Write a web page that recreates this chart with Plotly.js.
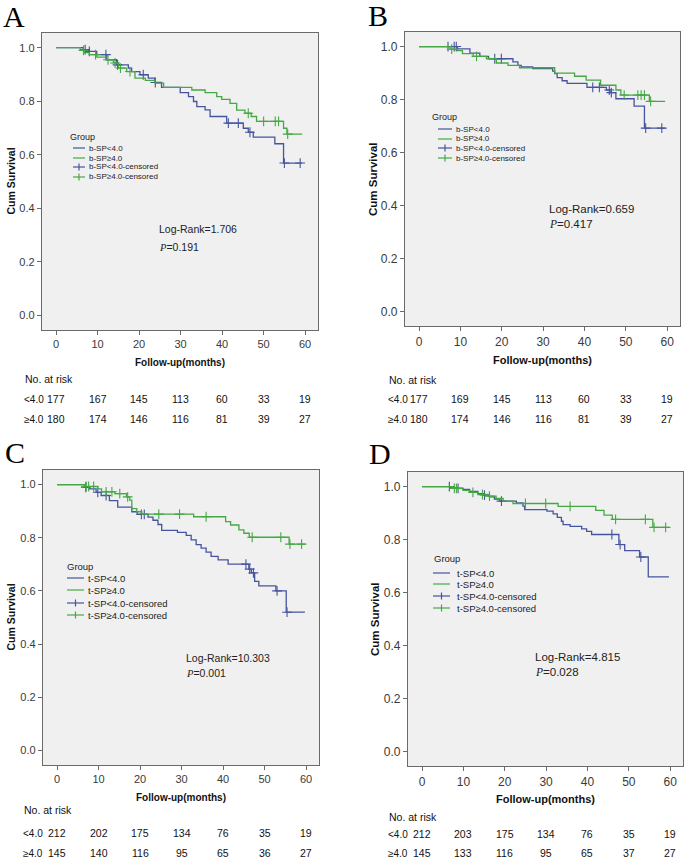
<!DOCTYPE html>
<html><head><meta charset="utf-8">
<script src="https://cdn.plot.ly/plotly-3.0.1.min.js"></script>
<style>html,body{margin:0;padding:0;background:#fff}#chart{width:685px;height:860px}</style>
</head><body><div id="chart"></div>
<script>
// ---------- DATA ----------
const riskTimes = [0, 10, 20, 30, 40, 50, 60];
const yTicks = [0, 0.2, 0.4, 0.6, 0.8, 1.0];

// Panel A (b-SP)
const A_lo_t = [0, 6.5, 7.8, 9.8, 12.2, 14.6, 17.4, 18.2, 20.2, 22.2, 23.8, 25.4, 29.9, 31.9, 33.1, 33.9, 35.9, 37.1, 41.1, 45.1, 46.3, 47.5, 52.7, 54.8, 59.3];
const A_lo_s = [1.0, 0.993, 0.986, 0.974, 0.955, 0.936, 0.924, 0.911, 0.899, 0.886, 0.870, 0.852, 0.832, 0.817, 0.799, 0.780, 0.768, 0.743, 0.718, 0.699, 0.684, 0.666, 0.641, 0.569, 0.569];
const A_lo_cens = [7.0, 8.0, 12.0, 14.8, 21.0, 23.9, 41.5, 43.9, 46.7, 55.0, 58.8];
const A_hi_t = [0, 5.8, 6.8, 8.0, 9.8, 12.0, 13.8, 15.0, 17.0, 19.0, 21.5, 23.8, 25.9, 32.7, 35.9, 38.7, 39.9, 41.9, 43.5, 45.5, 47.0, 48.3, 54.8, 55.6, 59.3];
const A_hi_s = [1.0, 0.990, 0.982, 0.974, 0.965, 0.955, 0.943, 0.924, 0.911, 0.886, 0.878, 0.868, 0.852, 0.842, 0.832, 0.817, 0.807, 0.792, 0.767, 0.755, 0.743, 0.725, 0.699, 0.677, 0.677];
const A_hi_cens = [6.6, 9.5, 12.5, 14.2, 15.5, 17.8, 46.3, 50.0, 52.8, 53.6, 55.8];
const A_risk_lo = [177, 167, 145, 113, 60, 33, 19];
const A_risk_hi = [180, 174, 146, 116, 81, 39, 27];

// Panel B (b-SP)
const B_lo_t = [0, 9.3, 12.3, 14.7, 16.8, 22.7, 23.9, 24.7, 27.5, 32.3, 32.8, 33.4, 34.6, 35.8, 40.6, 45.3, 46.2, 47.6, 52.0, 54.5, 59.5];
const B_lo_s = [1.0, 0.991, 0.975, 0.963, 0.954, 0.942, 0.929, 0.923, 0.917, 0.907, 0.898, 0.883, 0.871, 0.861, 0.846, 0.836, 0.826, 0.803, 0.775, 0.692, 0.692];
const B_lo_cens = [7.0, 8.5, 9.0, 18.3, 19.9, 42.0, 43.6, 46.0, 46.5, 54.8, 58.7];
const B_hi_t = [0, 7.5, 9.3, 10.5, 13.1, 16.3, 18.7, 21.5, 24.3, 32.8, 37.6, 40.4, 43.9, 47.6, 48.8, 55.7, 59.5];
const B_hi_s = [1.0, 0.990, 0.985, 0.973, 0.963, 0.954, 0.938, 0.929, 0.920, 0.900, 0.888, 0.873, 0.854, 0.836, 0.817, 0.793, 0.793];
const B_hi_cens = [7.9, 13.9, 49.6, 52.9, 53.7, 54.5, 56.0];
const B_risk_lo = [177, 169, 145, 113, 60, 33, 19];
const B_risk_hi = [180, 174, 146, 116, 81, 39, 27];

// Panel C (t-SP)
const C_lo_t = [0, 6.6, 7.8, 9.4, 10.6, 12.6, 14.6, 18.0, 19.3, 21.9, 23.1, 24.3, 25.2, 29.0, 31.1, 32.3, 33.5, 34.7, 35.9, 37.1, 38.8, 41.2, 46.2, 46.8, 47.6, 48.6, 52.7, 55.2, 59.7];
const C_lo_s = [1.0, 0.990, 0.984, 0.971, 0.959, 0.940, 0.915, 0.898, 0.888, 0.878, 0.866, 0.850, 0.828, 0.820, 0.809, 0.792, 0.774, 0.761, 0.746, 0.730, 0.717, 0.701, 0.682, 0.668, 0.636, 0.619, 0.600, 0.520, 0.520];
const C_lo_cens = [6.9, 9.8, 11.8, 20.3, 21.0, 45.5, 46.4, 47.3, 53.0, 55.4];
const C_hi_t = [0, 6.6, 9.8, 10.7, 13.9, 16.7, 17.5, 18.0, 19.2, 20.4, 32.9, 40.6, 41.8, 43.8, 45.0, 46.3, 55.9, 59.7];
const C_hi_s = [1.0, 0.993, 0.984, 0.973, 0.966, 0.954, 0.942, 0.910, 0.898, 0.889, 0.879, 0.861, 0.848, 0.830, 0.817, 0.802, 0.776, 0.776];
const C_hi_cens = [7.0, 7.6, 8.8, 11.8, 13.2, 15.1, 17.0, 24.5, 29.5, 35.9, 47.0, 53.9, 56.1, 58.9];
const C_risk_lo = [212, 202, 175, 134, 76, 35, 19];
const C_risk_hi = [145, 140, 116, 95, 65, 36, 27];

// Panel D (t-SP)
const D_lo_t = [0, 6.9, 8.5, 9.9, 11.5, 13.5, 14.9, 16.3, 17.5, 18.8, 22.8, 24.4, 24.8, 30.2, 31.7, 32.7, 33.7, 34.1, 35.8, 38.6, 39.8, 41.0, 47.6, 49.0, 52.6, 54.7, 59.7];
const D_lo_s = [1.0, 0.995, 0.993, 0.989, 0.982, 0.973, 0.968, 0.961, 0.953, 0.945, 0.938, 0.926, 0.913, 0.907, 0.897, 0.884, 0.869, 0.856, 0.850, 0.840, 0.831, 0.819, 0.781, 0.758, 0.734, 0.659, 0.659];
const D_lo_cens = [6.6, 8.7, 15.1, 19.2, 45.9, 47.9, 52.9];
const D_hi_t = [0, 7.4, 9.9, 11.5, 13.5, 15.9, 17.9, 19.6, 22.0, 32.9, 42.0, 44.0, 46.0, 55.8, 59.7];
const D_hi_s = [1.0, 0.993, 0.986, 0.978, 0.970, 0.964, 0.955, 0.945, 0.936, 0.925, 0.910, 0.892, 0.876, 0.846, 0.846];
const D_hi_cens = [7.8, 8.3, 12.3, 14.6, 16.3, 25.0, 29.9, 35.8, 46.8, 54.0, 56.1, 58.9];
const D_risk_lo = [212, 203, 175, 134, 76, 35, 19];
const D_risk_hi = [145, 133, 116, 95, 65, 37, 27];

const groupPrefix = ['b-SP', 'b-SP', 't-SP', 't-SP'];
const logRank = ['1.706', '0.659', '10.303', '4.815'];
const pValues = ['0.191', '0.417', '0.001', '0.028'];
const panelLetters = ['A', 'B', 'C', 'D'];

// ---------- STYLE / LAYOUT ----------
const W = 685, H = 860;
const BLUE = '#46549f', GREEN = '#45a845', AXC = '#6a6a6a';
const SANS = 'Liberation Sans, Arial, sans-serif';
const NARROW = 'Liberation Sans Narrow, Arial Narrow, Liberation Sans, sans-serif';
const SERIF = 'Liberation Serif, Times New Roman, serif';
const px = v => v / W, py = v => 1 - v / H;

const layoutCfg = [
  {box:[42,33,318,330], letter:[14,17], ytx:10, xty:362, nar:[23,379], rows:[399,419], rowx:22,
   lr:[157,229,247], tick:11, tit:10, leg:{g:[68,137], ys:[148,158,167,177], l:[73,85], tx:87, fs:8, gfs:9}},
  {box:[405,32,680,326], letter:[378,15], ytx:373, xty:360, nar:[387,380], rows:[399,419], rowx:386,
   lr:[547,209,224], tick:12, tit:11, leg:{g:[430,117], ys:[129,139,148,158], l:[438,452], tx:454, fs:8, gfs:9}},
  {box:[43,470,319,765], letter:[15,452], ytx:10, xty:797, nar:[22,810], rows:[833,853], rowx:21,
   lr:[184,658,673], tick:11, tit:10, leg:{g:[65,566], ys:[578,590,603,615], l:[67,84], tx:86, fs:9.5, gfs:9.5}},
  {box:[408,472,683,766], letter:[380,453], ytx:375, xty:799, nar:[387,817], rows:[834,853], rowx:386,
   lr:[533,657,672], tick:12, tit:11, leg:{g:[432,558], ys:[573,584,596,608], l:[433,450], tx:455, fs:9.5, gfs:9.5}}
];

const curves = [
  {lo:[A_lo_t,A_lo_s,A_lo_cens], hi:[A_hi_t,A_hi_s,A_hi_cens], rl:A_risk_lo, rh:A_risk_hi},
  {lo:[B_lo_t,B_lo_s,B_lo_cens], hi:[B_hi_t,B_hi_s,B_hi_cens], rl:B_risk_lo, rh:B_risk_hi},
  {lo:[C_lo_t,C_lo_s,C_lo_cens], hi:[C_hi_t,C_hi_s,C_hi_cens], rl:C_risk_lo, rh:C_risk_hi},
  {lo:[D_lo_t,D_lo_s,D_lo_cens], hi:[D_hi_t,D_hi_s,D_hi_cens], rl:D_risk_lo, rh:D_risk_hi}
];

function stepAt(t, ts, ss) {
  let v = ss[0];
  for (let i = 0; i < ts.length; i++) { if (ts[i] <= t) v = ss[i]; else break; }
  return v;
}

const traces = [], annotations = [], shapes = [];
const layout = {
  width: W, height: H, margin: {l:0, r:0, t:0, b:0},
  paper_bgcolor: '#ffffff', plot_bgcolor: '#f0f0f0', showlegend: false,
  font: {family: SANS, color: '#222'}
};

curves.forEach((c, i) => {
  const n = i === 0 ? '' : String(i + 1);
  const xa = 'x' + n, ya = 'y' + n;
  const L = layoutCfg[i];
  const [x0, y0, x1, y1] = L.box;
  const axCommon = {showline:true, mirror:true, linecolor:AXC, linewidth:1.2, showgrid:false, zeroline:false,
    ticks:'outside', ticklen:4, tickwidth:1, tickcolor:AXC, tickfont:{family:SANS, size:L.tick, color:'#3a3a3a'}};
  layout['xaxis' + n] = Object.assign({}, axCommon, {domain:[px(x0), px(x1)], range:[-3.4, 63.1], anchor:ya,
    tickmode:'array', tickvals:riskTimes});
  layout['yaxis' + n] = Object.assign({}, axCommon, {domain:[py(y1), py(y0)], range:[-0.055, 1.055], anchor:xa,
    tickmode:'array', tickvals:yTicks, tickformat:'.1f'});

  [['lo', BLUE], ['hi', GREEN]].forEach(([k, col]) => {
    const [ts, ss, cs] = c[k];
    traces.push({type:'scatter', mode:'lines', x:ts, y:ss, xaxis:xa, yaxis:ya,
      line:{color:col, width:1.3, shape:'hv'}, hoverinfo:'skip'});
    traces.push({type:'scatter', mode:'markers', x:cs, y:cs.map(t => stepAt(t, ts, ss)), xaxis:xa, yaxis:ya,
      marker:{symbol:'cross-thin-open', size:7, color:col, line:{color:col, width:1.1}}, hoverinfo:'skip'});
  });

  // panel letter
  annotations.push({xref:'paper', yref:'paper', x:px(L.letter[0]), y:py(L.letter[1]), xanchor:'center', yanchor:'middle',
    text:panelLetters[i], showarrow:false, font:{family:SERIF, size:30, color:'#000'}});
  // y axis title
  annotations.push({xref:'paper', yref:'paper', x:px(L.ytx), y:py((y0 + y1) / 2), xanchor:'center', yanchor:'middle',
    text:'<b>Cum Survival</b>', textangle:-90, showarrow:false, font:{family:SANS, size:L.tit + 0.5, color:'#111'}});
  // x axis title
  annotations.push({xref:'paper', yref:'paper', x:px((x0 + x1) / 2), y:py(L.xty), xanchor:'center', yanchor:'middle',
    text:'<b>Follow-up(months)</b>', showarrow:false, font:{family:SANS, size:L.tit, color:'#111'}});
  // No. at risk
  annotations.push({xref:'paper', yref:'paper', x:px(L.nar[0]), y:py(L.nar[1]), xanchor:'left', yanchor:'middle',
    text:'No. at risk', showarrow:false, font:{family:NARROW, size:10.5, color:'#111'}});
  annotations.push({xref:'paper', yref:'paper', x:px(L.rowx), y:py(L.rows[0]), xanchor:'left', yanchor:'middle',
    text:'&lt;4.0', showarrow:false, font:{family:NARROW, size:10, color:'#111'}});
  annotations.push({xref:'paper', yref:'paper', x:px(L.rowx), y:py(L.rows[1]), xanchor:'left', yanchor:'middle',
    text:'≥4.0', showarrow:false, font:{family:NARROW, size:10, color:'#111'}});
  riskTimes.forEach((t, j) => {
    annotations.push({xref:xa, yref:'paper', x:t, y:py(L.rows[0]), xanchor:'center', yanchor:'middle',
      text:String(c.rl[j]), showarrow:false, font:{family:NARROW, size:10.5, color:'#111'}});
    annotations.push({xref:xa, yref:'paper', x:t, y:py(L.rows[1]), xanchor:'center', yanchor:'middle',
      text:String(c.rh[j]), showarrow:false, font:{family:NARROW, size:10.5, color:'#111'}});
  });
  // Log-rank
  annotations.push({xref:'paper', yref:'paper', x:px(L.lr[0]), y:py(L.lr[1]), xanchor:'left', yanchor:'middle',
    text:'Log-Rank=' + logRank[i], showarrow:false, font:{family:SANS, size:L.tit + 0.5, color:'#222'}});
  annotations.push({xref:'paper', yref:'paper', x:px(L.lr[0]), y:py(L.lr[2]), xanchor:'left', yanchor:'middle',
    text:'<span style="font-family:Liberation Serif"><i>P</i></span>=' + pValues[i], showarrow:false,
    font:{family:SANS, size:L.tit + 0.5, color:'#222'}});

  // legend
  const G = L.leg, pre = groupPrefix[i];
  annotations.push({xref:'paper', yref:'paper', x:px(G.g[0]), y:py(G.g[1]), xanchor:'left', yanchor:'middle',
    text:'Group', showarrow:false, font:{family:SANS, size:G.gfs, color:'#222'}});
  const labels = [pre + '&lt;4.0', pre + '≥4.0', pre + '&lt;4.0-censored', pre + '≥4.0-censored'];
  const cols = [BLUE, GREEN, BLUE, GREEN];
  labels.forEach((lab, j) => {
    const yy = G.ys[j];
    shapes.push({type:'line', xref:'paper', yref:'paper', x0:px(G.l[0]), x1:px(G.l[1]), y0:py(yy), y1:py(yy),
      line:{color:cols[j], width:1.2}});
    if (j >= 2) {
      const cx = (G.l[0] + G.l[1]) / 2;
      shapes.push({type:'line', xref:'paper', yref:'paper', x0:px(cx), x1:px(cx), y0:py(yy - 3.5), y1:py(yy + 3.5),
        line:{color:cols[j], width:1.2}});
    }
    annotations.push({xref:'paper', yref:'paper', x:px(G.tx), y:py(yy), xanchor:'left', yanchor:'middle',
      text:lab, showarrow:false, font:{family:SANS, size:G.fs, color:'#222'}});
  });
});

layout.annotations = annotations;
layout.shapes = shapes;
Plotly.newPlot('chart', traces, layout, {staticPlot:true, displayModeBar:false});
</script></body></html>
